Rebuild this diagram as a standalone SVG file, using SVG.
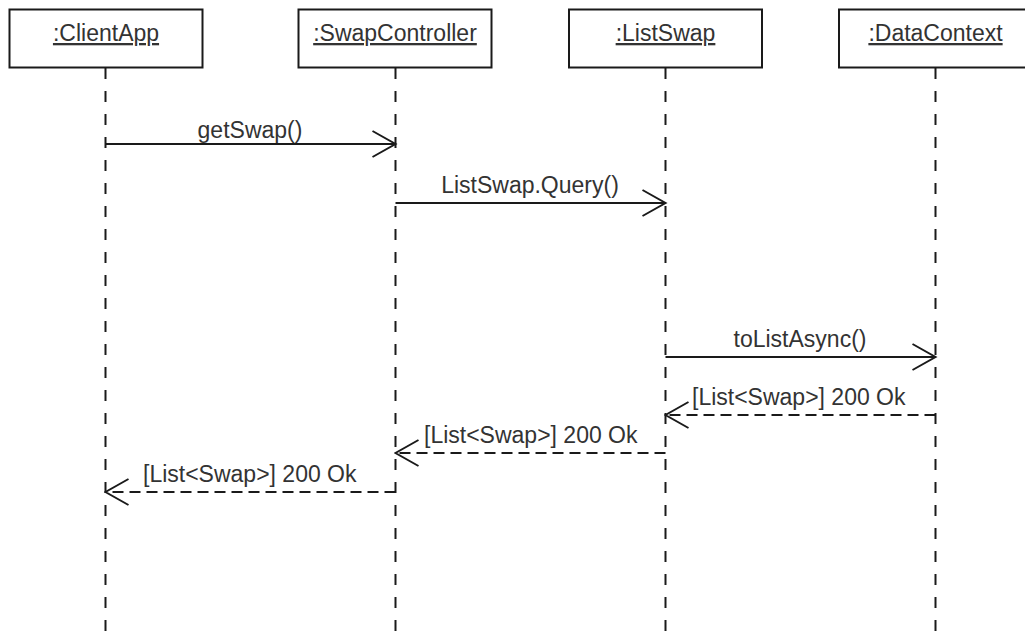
<svg xmlns="http://www.w3.org/2000/svg" width="1025" height="635" viewBox="0 0 1025 635">
<style>
.box{fill:#fff;stroke:#1a1a1a;stroke-width:2}
.lbl{font-family:"Liberation Sans",Arial,sans-serif;font-size:23px;fill:#333;text-anchor:middle;text-decoration:underline}
.life{stroke:#1a1a1a;stroke-width:2;stroke-dasharray:11 12;fill:none}
.msg{stroke:#1a1a1a;stroke-width:2;fill:none}
.ret{stroke:#1a1a1a;stroke-width:2;fill:none;stroke-dasharray:11 6}
.t{font-family:"Liberation Sans",Arial,sans-serif;font-size:23px;fill:#333}
</style>
<defs>
<marker id="open" viewBox="-25 -15 27 30" markerWidth="27" markerHeight="30" refX="0" refY="0" orient="auto" markerUnits="userSpaceOnUse">
<path d="M-23,-13 L0,0 L-23,13" fill="none" stroke="#1a1a1a" stroke-width="2"/>
</marker>
</defs>
<g id="lifelines">
<line class="life" x1="105.5" y1="68" x2="105.5" y2="635"/>
<line class="life" x1="395.5" y1="68" x2="395.5" y2="635"/>
<line class="life" x1="665.5" y1="68" x2="665.5" y2="635"/>
<line class="life" x1="935.5" y1="68" x2="935.5" y2="635"/>
</g>
<g id="clientapp">
<rect class="box" x="9.5" y="9.5" width="193" height="58"/>
<text class="lbl" x="106" y="41">:ClientApp</text>
</g>
<g id="swapcontroller">
<rect class="box" x="298.5" y="9.5" width="193" height="58"/>
<text class="lbl" x="395" y="41">:SwapController</text>
</g>
<g id="listswap">
<rect class="box" x="569" y="9.5" width="193" height="58"/>
<text class="lbl" x="665.5" y="41">:ListSwap</text>
</g>
<g id="datacontext">
<rect class="box" x="839" y="9.5" width="193" height="58"/>
<text class="lbl" x="935.5" y="41">:DataContext</text>
</g>
<g id="connectors">
<line class="msg" x1="105.5" y1="144" x2="395.5" y2="144" marker-end="url(#open)"/>
<text class="t" x="250" y="138" text-anchor="middle">getSwap()</text>
<line class="msg" x1="395.5" y1="203" x2="665.5" y2="203" marker-end="url(#open)"/>
<text class="t" x="530" y="193" text-anchor="middle">ListSwap.Query()</text>
<line class="msg" x1="665.5" y1="357" x2="935.5" y2="357" marker-end="url(#open)"/>
<text class="t" x="800" y="347" text-anchor="middle">toListAsync()</text>
<line class="ret" x1="935.5" y1="415" x2="665.5" y2="415" marker-end="url(#open)"/>
<text class="t" x="692" y="405">[List&lt;Swap&gt;] 200 Ok</text>
<line class="ret" x1="665.5" y1="453" x2="395.5" y2="453" marker-end="url(#open)"/>
<text class="t" x="424" y="443">[List&lt;Swap&gt;] 200 Ok</text>
<line class="ret" x1="395.5" y1="492" x2="105.5" y2="492" marker-end="url(#open)"/>
<text class="t" x="143" y="482">[List&lt;Swap&gt;] 200 Ok</text>
</g>
</svg>
